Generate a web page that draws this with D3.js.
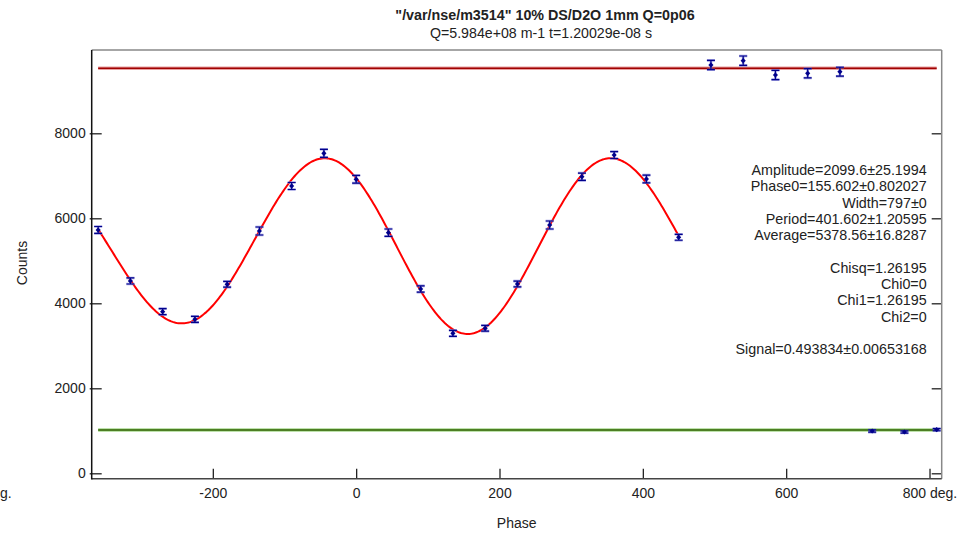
<!DOCTYPE html>
<html>
<head>
<meta charset="utf-8">
<script src="https://cdn.jsdelivr.net/npm/d3@7"></script>
<style>
  html, body { margin: 0; padding: 0; background: #fff; }
  svg { display: block; font-family: "Liberation Sans", Arial, sans-serif; }
  text { fill: #222; }
</style>
</head>
<body>
<svg id="chart" width="973" height="534"></svg>
<script>
// Measured phase points (deg) and counts with their errors
const phase = [-360, -315, -270, -225, -180, -135, -90, -45, 0, 45, 90, 135, 180, 225, 270, 315, 360, 405, 450,
               495, 540, 585, 630, 675,
               720, 765, 810];
const counts = [5725, 4525, 3803, 3623, 4447, 5701, 6760, 7529, 6918, 5662, 4336, 3294, 3412, 4454, 5842, 6979, 7489, 6925, 5553,
                9607, 9709, 9372, 9412, 9449,
                995, 972, 1026];
const countErr = [82, 71, 71, 71, 67, 94, 82, 94, 90, 86, 75, 70, 67, 67, 94, 86, 82, 90, 70,
                  110, 110, 110, 110, 105,
                  25, 25, 25];

// Spin-up / spin-down reference levels
const upLevel = 9529;
const downLevel = 1019;
const levelSpan = [-360, 810];

// Fit parameters of the echo curve
const fitAmplitude = 2099.6;
const fitPhase0 = 155.602;
const fitWidth = 797;
const fitPeriod = 401.602;
const fitAverage = 5378.56;
const fitSpan = [-360, 450];

// Axis ticks
const xTickValues = [-200, 0, 200, 400, 600, 800];
const xTickLabels = ["-200", "0", "200", "400", "600", "800 deg."];
const yTickValues = [0, 2000, 4000, 6000, 8000];
const yTickLabels = ["0", "2000", "4000", "6000", "8000"];

// Fit results text block
const fitLines = [
  "Amplitude=2099.6\u00b125.1994",
  "Phase0=155.602\u00b10.802027",
  "Width=797\u00b10",
  "Period=401.602\u00b11.20595",
  "Average=5378.56\u00b116.8287",
  "",
  "Chisq=1.26195",
  "Chi0=0",
  "Chi1=1.26195",
  "Chi2=0",
  "",
  "Signal=0.493834\u00b10.00653168"
];

const titleText = "\"/var/nse/m3514\" 10% DS/D2O 1mm Q=0p06";
const subtitleText = "Q=5.984e+08 m-1 t=1.20029e-08 s";

const svg = d3.select("#chart");
const plotLeft = 91.7, plotRight = 941.7, plotTop = 50, plotBottom = 478.7;

const x = d3.scaleLinear().domain([-369, 817]).range([plotLeft, plotRight]);
const y = d3.scaleLinear().domain([-127, 9960]).range([plotBottom, plotTop]);

// Titles
svg.append("text").attr("x", 545).attr("y", 20).attr("text-anchor", "middle")
  .attr("font-size", 14.3).attr("font-weight", "bold").text(titleText);
svg.append("text").attr("x", 541).attr("y", 38).attr("text-anchor", "middle")
  .attr("font-size", 14.2).text(subtitleText);

// Axes with inward ticks
const gx = svg.append("g").attr("transform", `translate(0,${plotBottom})`)
  .call(d3.axisBottom(x).tickValues(xTickValues)
    .tickFormat((d, i) => xTickLabels[i]).tickSizeInner(-10).tickSizeOuter(0).tickPadding(9));
const gy = svg.append("g").attr("transform", `translate(${plotLeft},0)`)
  .call(d3.axisLeft(y).tickValues(yTickValues)
    .tickFormat((d, i) => yTickLabels[i]).tickSizeInner(-10).tickSizeOuter(0).tickPadding(6));
const gr = svg.append("g").attr("transform", `translate(${plotRight},0)`)
  .call(d3.axisRight(y).tickValues(yTickValues).tickFormat("").tickSizeInner(-10).tickSizeOuter(0));

[gx, gy, gr].forEach(g => {
  g.select(".domain").remove();
  g.selectAll(".tick line").attr("stroke", "#222").attr("stroke-width", 1.3);
  g.selectAll(".tick text").attr("font-size", 14).attr("font-family", "Liberation Sans, Arial, sans-serif").attr("fill", "#222");
});
gy.selectAll(".tick line").attr("x1", -2);

// Frame
svg.append("line").attr("x1", plotLeft).attr("x2", plotRight).attr("y1", plotTop).attr("y2", plotTop)
  .attr("stroke", "#888").attr("stroke-width", 1.5);
svg.append("line").attr("x1", plotRight).attr("x2", plotRight).attr("y1", plotTop).attr("y2", plotBottom)
  .attr("stroke", "#888").attr("stroke-width", 1.5);
svg.append("line").attr("x1", plotLeft).attr("x2", plotRight).attr("y1", plotBottom).attr("y2", plotBottom)
  .attr("stroke", "#444").attr("stroke-width", 1.5);
svg.append("line").attr("x1", plotLeft).attr("x2", plotLeft).attr("y1", plotTop).attr("y2", plotBottom + 0.75)
  .attr("stroke", "#111").attr("stroke-width", 1.5);

// Axis titles
svg.append("text").attr("x", 516.7).attr("y", 528).attr("text-anchor", "middle")
  .attr("font-size", 14).text("Phase");
svg.append("text").attr("transform", "translate(27,263) rotate(-90)").attr("text-anchor", "middle")
  .attr("font-size", 14).text("Counts");
// unit tail at the far left of the phase axis
svg.append("text").attr("x", 0).attr("y", 498).attr("text-anchor", "start")
  .attr("font-size", 14).text("g.");

// Reference levels
function level(v, core, halo) {
  svg.append("line").attr("x1", x(levelSpan[0])).attr("x2", x(levelSpan[1]))
    .attr("y1", y(v)).attr("y2", y(v)).attr("stroke", halo).attr("stroke-width", 3.5);
  svg.append("line").attr("x1", x(levelSpan[0])).attr("x2", x(levelSpan[1]))
    .attr("y1", y(v)).attr("y2", y(v)).attr("stroke", core).attr("stroke-width", 1.6);
}
level(upLevel, "#a00000", "#e8a0a0");
level(downLevel, "#2f6000", "#a8d890");

// Fit curve: damped cosine built from the fit parameters
const fitX = d3.range(fitSpan[0], fitSpan[1] + 0.5, 2);
const fitY = v => fitAverage - fitAmplitude *
  Math.exp(-0.5 * Math.pow((v - fitPhase0) / fitWidth, 2)) *
  Math.cos(2 * Math.PI * (v - fitPhase0) / fitPeriod);
svg.append("path").datum(fitX)
  .attr("d", d3.line().x(d => x(d)).y(d => y(fitY(d))).curve(d3.curveLinear))
  .attr("fill", "none").attr("stroke", "#ff0000").attr("stroke-width", 2);

// Data points with error bars
const pts = phase.map((p, i) => ({ p, c: counts[i], e: countErr[i] }));
const gp = svg.append("g").selectAll("g").data(pts).join("g");
const capW = 4;
const barPath = d => {
  const cx = x(d.p), y1 = y(d.c + d.e), y2 = y(d.c - d.e);
  return `M${cx - capW},${y1}H${cx + capW}M${cx},${y1}V${y2}M${cx - capW},${y2}H${cx + capW}`;
};
// soft underlay
gp.append("path").attr("d", barPath)
  .attr("fill", "none").attr("stroke", "#7b7bd6").attr("stroke-opacity", 0.7).attr("stroke-width", 2.6);
gp.append("path").attr("d", barPath)
  .attr("fill", "none").attr("stroke", "#00008b").attr("stroke-width", 1.2);
gp.append("path")
  .attr("d", d => {
    const cx = x(d.p), cy = y(d.c);
    return `M${cx},${cy - 2.6}L${cx + 2.6},${cy}L${cx},${cy + 2.6}L${cx - 2.6},${cy}Z`;
  })
  .attr("fill", "#00008b");

// Fit results
const ft = svg.append("text").attr("x", 926.7).attr("y", 175).attr("text-anchor", "end").attr("font-size", 14.3);
fitLines.forEach((s, i) => {
  ft.append("tspan").attr("x", 926.7).attr("y", 175 + 16.3 * i).text(s === "" ? "\u00a0" : s);
});
</script>
</body>
</html>
